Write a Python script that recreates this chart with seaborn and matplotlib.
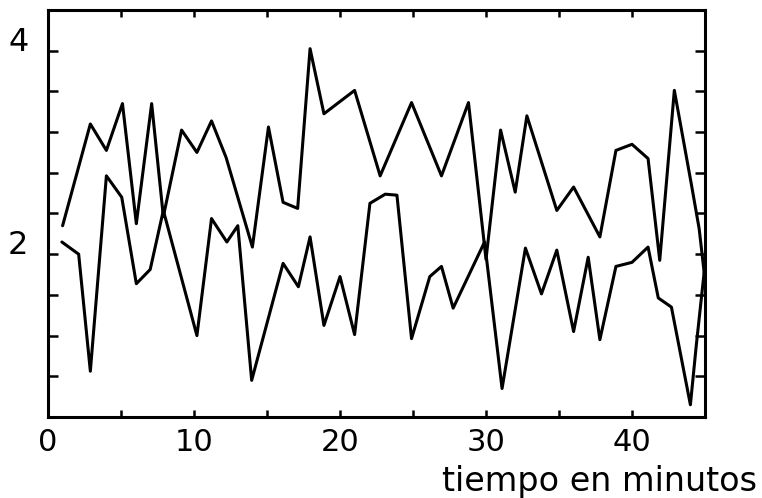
import numpy as np
import pandas as pd
import matplotlib
matplotlib.use("Agg")
import matplotlib.pyplot as plt
import matplotlib.transforms as mtransforms
import seaborn as sns

# --- data ---
upper_x = [1.0, 2.9, 4.0, 5.1, 6.05, 7.1, 7.9, 9.15, 10.2, 11.2, 12.2, 14.0, 15.1,
           16.1, 17.1, 17.95, 18.9, 21.0, 22.75, 24.9, 26.95, 28.8, 30.0, 31.0,
           32.0, 32.8, 34.85, 36.0, 37.8, 38.9, 40.0, 41.1, 41.9, 42.9, 44.1,
           44.6, 45.0]
upper_y = [2.28, 3.28, 3.02, 3.48, 2.30, 3.48, 2.37, 3.22, 3.0, 3.31, 2.95, 2.07,
           3.25, 2.51, 2.45, 4.02, 3.38, 3.61, 2.77, 3.49, 2.77, 3.49, 1.95, 3.22,
           2.61, 3.36, 2.43, 2.66, 2.17, 3.02, 3.08, 2.94, 1.94, 3.61, 2.66, 2.25,
           1.75]

lower_x = [0.95, 2.1, 2.9, 4.0, 5.05, 6.05, 7.0, 7.9, 10.2, 11.2, 12.25, 13.0,
           13.95, 16.1, 17.15, 17.95, 18.9, 20.0, 21.0, 22.05, 23.1, 23.9, 24.9,
           26.15, 26.95, 27.75, 29.9, 31.1, 32.7, 33.8, 34.85, 36.0, 37.0, 37.8,
           38.9, 40.0, 41.1, 41.8, 42.7, 44.0, 44.4, 45.0]
lower_y = [2.12, 2.0, 0.85, 2.77, 2.56, 1.71, 1.85, 2.43, 1.2, 2.35, 2.12, 2.28,
           0.76, 1.91, 1.68, 2.17, 1.30, 1.78, 1.21, 2.5, 2.59, 2.58, 1.17, 1.78,
           1.88, 1.47, 2.12, 0.68, 2.06, 1.61, 2.04, 1.24, 1.97, 1.16, 1.88, 1.92,
           2.07, 1.57, 1.48, 0.52, 1.1, 1.9]

x_major = [0, 10, 20, 30, 40]
x_minor = [5, 15, 25, 35]
y_ticks = [0.8, 1.2, 1.6, 2.0, 2.4, 2.8, 3.2, 3.6, 4.0]
y_labels = ["", "", "", "2", "", "", "", "", "4"]
xlabel = "tiempo en minutos"

sns.set_style("ticks")
plt.rcParams["font.family"] = ["DejaVu Sans"]
plt.rcParams["text.color"] = "black"
plt.rcParams["xtick.color"] = "black"
plt.rcParams["ytick.color"] = "black"
plt.rcParams["axes.labelcolor"] = "black"

fig = plt.figure(figsize=(7.62, 4.98), dpi=100)
ax = fig.add_axes([48 / 762, 1 - 417 / 498, (705 - 48) / 762, (417 - 10) / 498])

df_u = pd.DataFrame({"x": upper_x, "y": upper_y})
df_l = pd.DataFrame({"x": lower_x, "y": lower_y})
sns.lineplot(data=df_u, x="x", y="y", ax=ax, color="black", lw=2.2,
             estimator=None, sort=False)
sns.lineplot(data=df_l, x="x", y="y", ax=ax, color="black", lw=2.2,
             estimator=None, sort=False)

ax.set_xlim(0, 45)
ax.set_ylim(0.4, 4.4)

ax.set_xticks(x_major)
ax.set_xticks(x_minor, minor=True)
ax.set_xticklabels([str(v) for v in x_major])
ax.set_yticks(y_ticks)
ax.set_yticklabels(y_labels)

for s in ax.spines.values():
    s.set_linewidth(2.2)
    s.set_color("black")
    s.set_visible(True)

ax.tick_params(axis="both", which="both", direction="in", top=True, right=True,
               color="black", labelcolor="black", width=1.8)
ax.tick_params(axis="x", which="both", length=5, labelsize=22, pad=8)
ax.tick_params(axis="y", which="both", length=7, labelsize=23, pad=14)

offset = mtransforms.ScaledTranslation(0, 12 / 100, fig.dpi_scale_trans)
for lab in ax.get_yticklabels():
    lab.set_transform(lab.get_transform() + offset)

ax.set_xlabel(xlabel, fontsize=24, ha="right", va="top", color="black")
ax.xaxis.set_label_coords((757 - 48) / 657, -0.118)
ax.set_ylabel("")

fig.savefig("out.png", dpi=100, facecolor="white")
